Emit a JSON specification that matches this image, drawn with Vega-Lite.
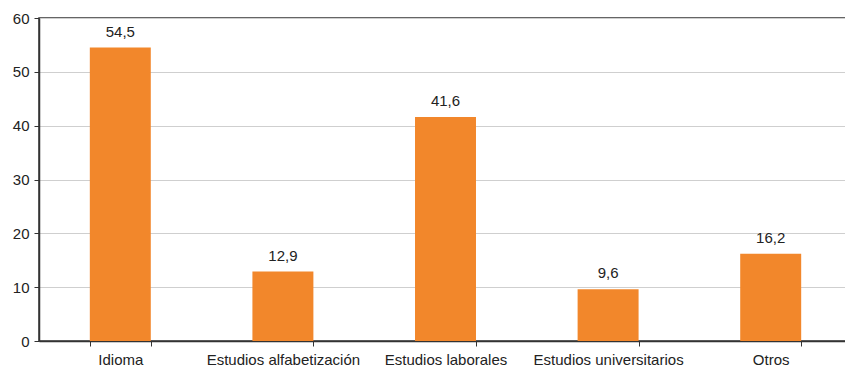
{
  "$schema": "https://vega.github.io/schema/vega-lite/v6.json",
  "autosize": "none",
  "padding": {"left": 39, "top": 18, "right": 0, "bottom": 26},
  "width": 813,
  "height": 323,
  "data": {
    "values": [
      {"categoria": "Idioma", "porcentaje": 54.5},
      {"categoria": "Estudios alfabetización", "porcentaje": 12.9},
      {"categoria": "Estudios laborales", "porcentaje": 41.6},
      {"categoria": "Estudios universitarios", "porcentaje": 9.6},
      {"categoria": "Otros", "porcentaje": 16.2}
    ]
  },
  "encoding": {
    "x": {
      "field": "categoria",
      "type": "nominal",
      "sort": null,
      "title": null,
      "scale": {"paddingInner": 0.625, "paddingOuter": 0.3125},
      "axis": {
        "labelAngle": 0,
        "tickBand": "extent",
        "tickSize": 5,
        "tickColor": "#333333",
        "domainColor": "#333333",
        "labelPadding": 6,
        "grid": false
      }
    },
    "y": {
      "field": "porcentaje",
      "type": "quantitative",
      "title": null,
      "scale": {"domain": [0, 60], "nice": false},
      "axis": {
        "values": [0, 10, 20, 30, 40, 50, 60],
        "tickSize": 5,
        "tickColor": "#333333",
        "domainColor": "#333333",
        "gridColor": "#cfcfcf",
        "labelPadding": 5
      }
    }
  },
  "layer": [
    {"mark": {"type": "bar", "color": "#F2872B"}},
    {
      "mark": {"type": "text", "baseline": "bottom", "dy": -8, "fontSize": 15, "color": "#222222"},
      "encoding": {"text": {"field": "porcentaje", "type": "quantitative", "format": ".1f"}}
    }
  ],
  "config": {
    "locale": {
      "number": {"decimal": ",", "thousands": ".", "grouping": [3], "currency": ["", " €"]}
    },
    "font": "Liberation Sans",
    "view": {"stroke": "#333333", "strokeWidth": 1.5},
    "axis": {
      "labelFont": "Liberation Sans",
      "labelFontSize": 15,
      "labelColor": "#222222",
      "domainWidth": 1.5
    }
  }
}
